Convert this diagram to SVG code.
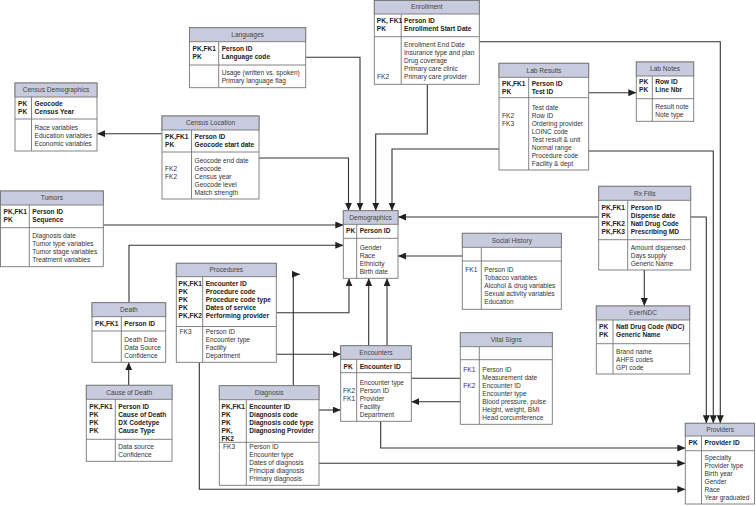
<svg xmlns="http://www.w3.org/2000/svg" width="756" height="506" viewBox="0 0 756 506">
<defs>
<marker id="ah" markerUnits="userSpaceOnUse" markerWidth="8" markerHeight="7" refX="8" refY="3.5" orient="auto"><path d="M0,0 L8,3.5 L0,7 z" fill="#222"/></marker>
<style>
.bx{fill:#fff;stroke:#777;stroke-width:0.9}
.hd{fill:#c7cbdd;stroke:#777;stroke-width:0.9}
.ln{stroke:#777;stroke-width:0.9}
.c{fill:none;stroke:#333;stroke-width:1.1;marker-end:url(#ah)}
.cn{fill:none;stroke:#333;stroke-width:1.1}
text{font-family:"Liberation Sans",Arial,sans-serif;font-size:6.6px;fill:#333}
.b{font-weight:bold;fill:#222}
.h{text-anchor:middle;fill:#444}
</style>
</defs>
<rect width="756" height="506" fill="#fff"/>
<g id="connectors">
<path class="c" d="M162,133.7 H97.3"/>
<path class="c" d="M259,158 H348.5 V210.7"/>
<path class="c" d="M305.7,57.3 H360 V210.7"/>
<path class="c" d="M427.3,84.3 V134 H375.7 V210.7"/>
<path class="c" d="M499,149 H392 V210.7"/>
<path class="c" d="M479.3,41.7 H720.3 V423.3"/>
<path class="c" d="M588.7,151 H713.3 V423.3"/>
<path class="c" d="M690.7,217 H706.3 V423.3"/>
<path class="c" d="M598.7,217 H398"/>
<path class="c" d="M588.7,92.7 H636.3"/>
<path class="c" d="M644.3,270 V306"/>
<path class="c" d="M103.3,225 H343.3"/>
<path class="c" d="M129,302.7 V245.3 H343.3"/>
<path class="c" d="M128.7,385.3 V362.3"/>
<path class="c" d="M462.3,256 H398"/>
<path class="c" d="M276.3,312.7 H349 V278.3"/>
<path class="c" d="M368.7,345.7 V278.3"/>
<path class="c" d="M460.3,378.3 H387 V278.3"/>
<path class="c" d="M460.3,401.7 H411.3"/>
<path class="c" d="M276.3,354.3 H340.7"/>
<path class="c" d="M319,410 H340.7"/>
<path class="c" d="M319,463.3 H685.3"/>
<path class="c" d="M199.3,362.3 V489.3 H685.3"/>
<path class="c" d="M380.7,421.3 V448 H685.3"/>
<path class="c" d="M293.3,385.7 V274.3 H300"/>
</g>

<g id="census-demographics">
<rect class="bx" x="15" y="83" width="82" height="68"/>
<rect class="hd" x="15" y="83" width="82" height="14"/>
<line class="ln" x1="15" y1="119" x2="97" y2="119"/>
<line class="ln" x1="31.5" y1="97" x2="31.5" y2="151"/>
<text class="h" x="56" y="92.3">Census Demographics</text>
<text class="b" x="18" y="106.3">PK</text><text class="b" x="18" y="114.3">PK</text>
<text class="b" x="34.5" y="106.3">Geocode</text><text class="b" x="34.5" y="114.3">Census Year</text>
<text x="34.5" y="130.3">Race variables</text><text x="34.5" y="138.3">Education variables</text><text x="34.5" y="146.3">Economic variables</text>
</g>

<g id="census-location">
<rect class="bx" x="162" y="116" width="97" height="83"/>
<rect class="hd" x="162" y="116" width="97" height="14"/>
<line class="ln" x1="162" y1="152" x2="259" y2="152"/>
<line class="ln" x1="191.5" y1="130" x2="191.5" y2="199"/>
<text class="h" x="210.5" y="125.3">Census Location</text>
<text class="b" x="165" y="139">PK,FK1</text><text class="b" x="165" y="147">PK</text>
<text class="b" x="194.5" y="139">Person ID</text><text class="b" x="194.5" y="147">Geocode start date</text>
<text x="165" y="170.6">FK2</text><text x="165" y="178.6">FK2</text>
<text x="194.5" y="162.6">Geocode end date</text><text x="194.5" y="170.6">Geocode</text><text x="194.5" y="178.6">Census year</text><text x="194.5" y="186.6">Geocode level</text><text x="194.5" y="194.6">Match strength</text>
</g>

<g id="languages">
<rect class="bx" x="189.5" y="27.7" width="116.2" height="60"/>
<rect class="hd" x="189.5" y="27.7" width="116.2" height="14"/>
<line class="ln" x1="189.5" y1="65" x2="305.7" y2="65"/>
<line class="ln" x1="218.7" y1="41.7" x2="218.7" y2="87.7"/>
<text class="h" x="247.6" y="37">Languages</text>
<text class="b" x="192.5" y="51">PK,FK1</text><text class="b" x="192.5" y="59">PK</text>
<text class="b" x="221.7" y="51">Person ID</text><text class="b" x="221.7" y="59">Language code</text>
<text x="221.7" y="74.6">Usage (written vs. spoken)</text><text x="221.7" y="82.6">Primary language flag</text>
</g>

<g id="enrollment">
<rect class="bx" x="374.3" y="0.5" width="105" height="83.8"/>
<rect class="hd" x="374.3" y="0.5" width="105" height="13.5"/>
<line class="ln" x1="374.3" y1="36.7" x2="479.3" y2="36.7"/>
<line class="ln" x1="401.2" y1="14" x2="401.2" y2="84.3"/>
<text class="h" x="426.8" y="9.3">Enrollment</text>
<text class="b" x="376.8" y="23">PK, FK1</text><text class="b" x="376.8" y="31">PK</text>
<text class="b" x="404" y="23">Person ID</text><text class="b" x="404" y="31">Enrollment Start Date</text>
<text x="404" y="47.3">Enrollment End Date</text><text x="404" y="55.3">Insurance type and plan</text><text x="404" y="63.3">Drug coverage</text><text x="404" y="71.3">Primary care clinic</text><text x="404" y="79.3">Primary care provider</text>
<text x="377" y="79.3">FK2</text>
</g>

<g id="lab-results">
<rect class="bx" x="499" y="63.3" width="89.7" height="106.7"/>
<rect class="hd" x="499" y="63.3" width="89.7" height="14"/>
<line class="ln" x1="499" y1="97.7" x2="588.7" y2="97.7"/>
<line class="ln" x1="528.7" y1="77.3" x2="528.7" y2="170"/>
<text class="h" x="543.9" y="72.6">Lab Results</text>
<text class="b" x="502" y="86">PK,FK1</text><text class="b" x="502" y="94">PK</text>
<text class="b" x="531.7" y="86">Person ID</text><text class="b" x="531.7" y="94">Test ID</text>
<text x="502" y="118">FK2</text><text x="502" y="126">FK3</text>
<text x="531.7" y="110">Test date</text><text x="531.7" y="118">Row ID</text><text x="531.7" y="126">Ordering provider</text><text x="531.7" y="134">LOINC code</text><text x="531.7" y="142">Test result &amp; unit</text><text x="531.7" y="150">Normal range</text><text x="531.7" y="158">Procedure code</text><text x="531.7" y="166">Facility &amp; dept</text>
</g>

<g id="lab-notes">
<rect class="bx" x="636.3" y="62" width="57.4" height="59.3"/>
<rect class="hd" x="636.3" y="62" width="57.4" height="14"/>
<line class="ln" x1="636.3" y1="98.7" x2="693.7" y2="98.7"/>
<line class="ln" x1="652.3" y1="76" x2="652.3" y2="121.3"/>
<text class="h" x="665" y="71.3">Lab Notes</text>
<text class="b" x="639" y="84.3">PK</text><text class="b" x="639" y="92.3">PK</text>
<text class="b" x="655.3" y="84.3">Row ID</text><text class="b" x="655.3" y="92.3">Line Nbr</text>
<text x="655.3" y="109">Result note</text><text x="655.3" y="117">Note type</text>
</g>

<g id="tumors">
<rect class="bx" x="0.5" y="191" width="102.8" height="75.7"/>
<rect class="hd" x="0.5" y="191" width="102.8" height="14"/>
<line class="ln" x1="0.5" y1="227.7" x2="103.3" y2="227.7"/>
<line class="ln" x1="29.3" y1="205" x2="29.3" y2="266.7"/>
<text class="h" x="51.9" y="200.3">Tumors</text>
<text class="b" x="3.5" y="214.3">PK,FK1</text><text class="b" x="3.5" y="222.3">PK</text>
<text class="b" x="32.3" y="214.3">Person ID</text><text class="b" x="32.3" y="222.3">Sequence</text>
<text x="32.3" y="238.3">Diagnosis date</text><text x="32.3" y="246.3">Tumor type variables</text><text x="32.3" y="254.3">Tumor stage variables</text><text x="32.3" y="262.3">Treatment variables</text>
</g>

<g id="demographics">
<rect class="bx" x="343.3" y="210.7" width="54.7" height="67.6"/>
<rect class="hd" x="343.3" y="210.7" width="54.7" height="13.6"/>
<line class="ln" x1="343.3" y1="238.3" x2="398" y2="238.3"/>
<line class="ln" x1="356.7" y1="224.3" x2="356.7" y2="278.3"/>
<text class="h" x="370.6" y="219.8">Demographics</text>
<text class="b" x="346" y="233.3">PK</text>
<text class="b" x="359.7" y="233.3">Person ID</text>
<text x="359.7" y="249.6">Gender</text><text x="359.7" y="257.6">Race</text><text x="359.7" y="265.6">Ethnicity</text><text x="359.7" y="273.6">Birth date</text>
</g>

<g id="social-history">
<rect class="bx" x="462.3" y="233.3" width="99" height="76"/>
<rect class="hd" x="462.3" y="233.3" width="99" height="14"/>
<line class="ln" x1="462.3" y1="261" x2="561.3" y2="261"/>
<line class="ln" x1="481.3" y1="247.3" x2="481.3" y2="309.3"/>
<text class="h" x="511.8" y="242.6">Social History</text>
<text x="465.3" y="272.3">FK1</text>
<text x="484.3" y="272.3">Person ID</text><text x="484.3" y="280.3">Tobacco variables</text><text x="484.3" y="288.3">Alcohol &amp; drug variables</text><text x="484.3" y="296.3">Sexual activity variables</text><text x="484.3" y="304.3">Education</text>
</g>

<g id="rx-fills">
<rect class="bx" x="598.7" y="186.3" width="92" height="83.7"/>
<rect class="hd" x="598.7" y="186.3" width="92" height="14"/>
<line class="ln" x1="598.7" y1="239.7" x2="690.7" y2="239.7"/>
<line class="ln" x1="627.7" y1="200.3" x2="627.7" y2="270"/>
<text class="h" x="644.7" y="195.6">Rx Fills</text>
<text class="b" x="601.5" y="210">PK,FK1</text><text class="b" x="601.5" y="218">PK</text><text class="b" x="601.5" y="226">PK,FK2</text><text class="b" x="601.5" y="234">PK,FK3</text>
<text class="b" x="630.7" y="210">Person ID</text><text class="b" x="630.7" y="218">Dispense date</text><text class="b" x="630.7" y="226">Natl Drug Code</text><text class="b" x="630.7" y="234">Prescribing MD</text>
<text x="630.7" y="250">Amount dispensed</text><text x="630.7" y="258">Days supply</text><text x="630.7" y="266">Generic Name</text>
</g>

<g id="everndc">
<rect class="bx" x="596.3" y="306" width="93.4" height="68"/>
<rect class="hd" x="596.3" y="306" width="93.4" height="14"/>
<line class="ln" x1="596.3" y1="343.7" x2="689.7" y2="343.7"/>
<line class="ln" x1="613" y1="320" x2="613" y2="374"/>
<text class="h" x="643" y="315.3">EverNDC</text>
<text class="b" x="599" y="329">PK</text><text class="b" x="599" y="337">PK</text>
<text class="b" x="616" y="329">Natl Drug Code (NDC)</text><text class="b" x="616" y="337">Generic Name</text>
<text x="616" y="353.6">Brand name</text><text x="616" y="361.6">AHFS codes</text><text x="616" y="369.6">GPI code</text>
</g>

<g id="procedures">
<rect class="bx" x="176.3" y="263.3" width="100" height="99"/>
<rect class="hd" x="176.3" y="263.3" width="100" height="13.4"/>
<line class="ln" x1="176.3" y1="326.5" x2="276.3" y2="326.5"/>
<line class="ln" x1="202.7" y1="276.7" x2="202.7" y2="362.3"/>
<text class="h" x="226.3" y="272.3">Procedures</text>
<text class="b" x="178.5" y="286">PK,FK1</text><text class="b" x="178.5" y="294">PK</text><text class="b" x="178.5" y="302">PK</text><text class="b" x="178.5" y="310">PK</text><text class="b" x="178.5" y="318">PK,FK2</text>
<text class="b" x="205.7" y="286">Encounter ID</text><text class="b" x="205.7" y="294">Procedure code</text><text class="b" x="205.7" y="302">Procedure code type</text><text class="b" x="205.7" y="310">Dates of service</text><text class="b" x="205.7" y="318">Performing provider</text>
<text x="179.5" y="334">FK3</text>
<text x="205.7" y="334">Person ID</text><text x="205.7" y="342">Encounter type</text><text x="205.7" y="350">Facility</text><text x="205.7" y="358">Department</text>
</g>

<g id="death">
<rect class="bx" x="92" y="302.7" width="73.7" height="59.6"/>
<rect class="hd" x="92" y="302.7" width="73.7" height="14"/>
<line class="ln" x1="92" y1="331" x2="165.7" y2="331"/>
<line class="ln" x1="121.3" y1="316.7" x2="121.3" y2="362.3"/>
<text class="h" x="128.9" y="312">Death</text>
<text class="b" x="95" y="326">PK,FK1</text>
<text class="b" x="124.3" y="326">Person ID</text>
<text x="124.3" y="341.6">Death Date</text><text x="124.3" y="349.6">Data Source</text><text x="124.3" y="357.6">Confidence</text>
</g>

<g id="cause-of-death">
<rect class="bx" x="86.3" y="385.3" width="85.7" height="76"/>
<rect class="hd" x="86.3" y="385.3" width="85.7" height="14"/>
<line class="ln" x1="86.3" y1="439.3" x2="172" y2="439.3"/>
<line class="ln" x1="115.3" y1="399.3" x2="115.3" y2="461.3"/>
<text class="h" x="129.2" y="394.6">Cause of Death</text>
<text class="b" x="89.3" y="409">PK,FK1</text><text class="b" x="89.3" y="417">PK</text><text class="b" x="89.3" y="425">PK</text><text class="b" x="89.3" y="433">PK</text>
<text class="b" x="118.3" y="409">Person ID</text><text class="b" x="118.3" y="417">Cause of Death</text><text class="b" x="118.3" y="425">DX Codetype</text><text class="b" x="118.3" y="433">Cause Type</text>
<text x="118.3" y="449">Data source</text><text x="118.3" y="457">Confidence</text>
</g>

<g id="diagnosis">
<rect class="bx" x="219.3" y="385.7" width="99.7" height="99.6"/>
<rect class="hd" x="219.3" y="385.7" width="99.7" height="14"/>
<line class="ln" x1="219.3" y1="442.3" x2="319" y2="442.3"/>
<line class="ln" x1="246.3" y1="399.7" x2="246.3" y2="485.3"/>
<text class="h" x="269.2" y="395">Diagnosis</text>
<text class="b" x="221.5" y="409">PK,FK1</text><text class="b" x="221.5" y="417">PK</text><text class="b" x="221.5" y="425">PK</text><text class="b" x="221.5" y="433">PK,</text><text class="b" x="221.5" y="441">FK2</text>
<text class="b" x="249.3" y="409">Encounter ID</text><text class="b" x="249.3" y="417">Diagnosis code</text><text class="b" x="249.3" y="425">Diagnosis code type</text><text class="b" x="249.3" y="433">Diagnosing Provider</text>
<text x="223" y="449">FK3</text>
<text x="249.3" y="449">Person ID</text><text x="249.3" y="457">Encounter type</text><text x="249.3" y="465">Dates of diagnosis</text><text x="249.3" y="473">Principal diagnosis</text><text x="249.3" y="481">Primary diagnosis</text>
</g>

<g id="encounters">
<rect class="bx" x="340.7" y="345.7" width="70.6" height="75.6"/>
<rect class="hd" x="340.7" y="345.7" width="70.6" height="13.6"/>
<line class="ln" x1="340.7" y1="372.7" x2="411.3" y2="372.7"/>
<line class="ln" x1="356.7" y1="359.3" x2="356.7" y2="421.3"/>
<text class="h" x="376" y="354.8">Encounters</text>
<text class="b" x="343.5" y="369">PK</text>
<text class="b" x="359.7" y="369">Encounter ID</text>
<text x="343" y="393">FK2</text><text x="343" y="401">FK1</text>
<text x="359.7" y="385">Encounter type</text><text x="359.7" y="393">Person ID</text><text x="359.7" y="401">Provider</text><text x="359.7" y="409">Facility</text><text x="359.7" y="417">Department</text>
</g>

<g id="vital-signs">
<rect class="bx" x="460.3" y="332.7" width="92" height="91.6"/>
<rect class="hd" x="460.3" y="332.7" width="92" height="14"/>
<line class="ln" x1="460.3" y1="359.7" x2="552.3" y2="359.7"/>
<line class="ln" x1="479.3" y1="346.7" x2="479.3" y2="424.3"/>
<text class="h" x="506.3" y="342">Vital Signs</text>
<text x="463.3" y="371.6">FK1</text><text x="463.3" y="387.6">FK2</text>
<text x="482.3" y="371.6">Person ID</text><text x="482.3" y="379.6">Measurement date</text><text x="482.3" y="387.6">Encounter ID</text><text x="482.3" y="395.6">Encounter type</text><text x="482.3" y="403.6">Blood pressure, pulse</text><text x="482.3" y="411.6">Height, weight, BMI</text><text x="482.3" y="419.6">Head corcumference</text>
</g>

<g id="providers">
<rect class="bx" x="685.3" y="423.3" width="69.2" height="80.7"/>
<rect class="hd" x="685.3" y="423.3" width="69.2" height="12.7"/>
<line class="ln" x1="685.3" y1="450.7" x2="754.5" y2="450.7"/>
<line class="ln" x1="701.5" y1="436" x2="701.5" y2="504"/>
<text class="h" x="720.2" y="432">Providers</text>
<text class="b" x="688.5" y="445">PK</text>
<text class="b" x="704.5" y="445">Provider ID</text>
<text x="704.5" y="460.3">Specialty</text><text x="704.5" y="468.3">Provider type</text><text x="704.5" y="476.3">Birth year</text><text x="704.5" y="484.3">Gender</text><text x="704.5" y="492.3">Race</text><text x="704.5" y="500.3">Year graduated</text>
</g>
</svg>
